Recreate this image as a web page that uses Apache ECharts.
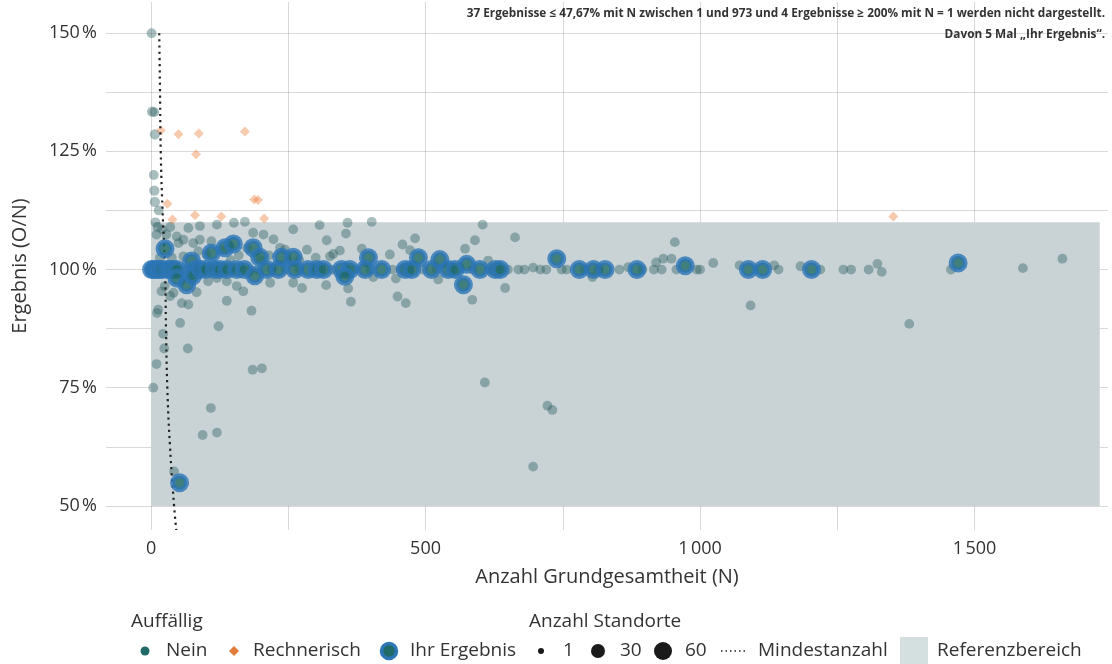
<!DOCTYPE html>
<html><head><meta charset="utf-8">
<script src="https://cdn.jsdelivr.net/npm/echarts@6/dist/echarts.min.js"></script>
<style>html,body{margin:0;padding:0;background:#fff}#c{width:1112px;height:664px}</style>
</head><body><div id="c"></div>
<script>
// ---- data ----
const xTicks = [0, 250, 500, 750, 1000, 1250, 1500];
const xLabels = [0, 500, 1000, 1500];
const yTicks = [50, 62.5, 75, 87.5, 100, 112.5, 125, 137.5, 150];
const yLabels = [50, 75, 100, 125, 150];
// [N, Ergebnis %, Anzahl Standorte]
const neinPoints = [
 [1,150,1],[2,133.4,2],[6,133.3,1],[7,128.6,2],[5,120,1],[6,116.7,2],[7,114.3,2],[14,112.5,1],
 [8,110,1],[12,109,1],[10,107.4,1],[28,107.4,1],[20,108.5,1],[35,109,1],[47,107,1],[50,105.6,1],[59,106.3,1],
 [77,105.6,1],[89,106.3,1],[68,108.8,1],[89,109.2,1],[120,109.5,1],[151,109.9,1],[171,110.1,1],[186,107.8,1],
 [205,107.4,1],[223,106.4,1],[235,104.6,1],[244,104.2,1],[259,108.5,1],[284,104.2,1],[16,102.5,1],[38,102.5,1],
 [59,102.8,1],[86,103.9,1],[101,103.2,1],[110,106,1],[130,104,1],[145,102,1],[160,103,1],[175,104.5,1],
 [200,102,1],[215,103,1],[250,101.5,1],[270,102,1],[300,102.5,1],
 [25,96.5,1],[19,95.4,1],[41,95.1,1],[35,94.4,1],[56,92.9,1],[68,92.6,1],[13,91.5,1],[11,90.8,1],[53,88.7,1],
 [22,86.4,1],[24,83.3,1],[67,83.3,1],[10,80,1],[4,75,1],[42,57.3,1],[104,97.5,1],[83,95.2,1],[120,98.2,1],
 [138,97.5,1],[138,93.4,1],[156,96.5,1],[168,95.4,1],[183,91.3,1],[217,97.2,1],[259,97.2,1],[275,96.1,1],
 [123,88,1],[185,78.8,1],[202,79.1,1],[109,70.7,1],[94,65,1],[120,65.5,1],
 [307,109.4,1],[358,109.9,1],[402,110.1,1],[320,106.2,1],[355,107.6,1],[384,104.4,1],[481,106.6,1],[458,105.3,1],
 [472,104.1,1],[435,103.2,1],[572,104.4,1],[590,106.2,1],[604,109.5,1],[326,102.8,1],[332,103.3,1],[344,104,1],
 [319,96.7,1],[359,96,1],[364,93.2,1],[405,98.4,1],[446,98.1,1],[449,94.3,1],[464,92.9,1],[523,97.9,1],
 [585,93.6,1],[645,96.1,1],[614,101.9,1],[608,76.1,1],[722,71.2,1],[731,70.3,1],[696,58.3,1],
 [663,106.8,1],[696,100.4,1],[804,98.4,1],[869,100.5,1],[920,101.5,1],[933,102.3,1],[948,102.3,1],[954,105.8,1],
 [1024,101.4,1],[1072,100.9,1],[1135,100.9,1],[1183,100.7,1],[1323,101.2,1],[1331,99.5,1],[1092,92.4,1],
 [1381,88.5,1],[1588,100.3,1],[1660,102.3,1],
 [1,100,5],[3,100,3],[8,100,2],[12,100,2],[18,100,2],[25,100,2],[33,100,2],[45,100,2],[60,100,2],[70,100,2],
 [95,100,2],[105,100,2],[120,100,2],[145,100,2],[165,100,1],[180,100,1],[195,100,1],[220,100,1],[245,100,1],
 [270,100,1],[330,100,1],[370,100,1],[400,100,1],[440,100,1],[455,100,1],[495,100,1],[520,100,1],[560,100,1],
 [585,100,1],[615,100,1],[650,100,1],[669,100,1],[680,100,1],[709,100,1],[720,100,1],[748,100,1],[757,100,1],
 [790,100,1],[815,100,1],[853,100,1],[895,100,1],[916,100,1],[930,100,1],[957,100,1],[994,100,1],[1000,100,1],
 [1143,100,1],[1219,100,1],[1261,100,1],[1275,100,1],[1307,100,1],[1457,100,1]
];
const rechnerischPoints = [
 [18,129.4],[50,128.6],[87,128.8],[171,129.2],[82,124.4],[30,113.9],[188,114.8],[195,114.7],
 [80,111.5],[128,111.2],[206,110.8],[39,110.6],[1352,111.2]
];
const ihrPoints = [
 [1,100],[5,100],[10,100],[15,100],[20,100],[25.5,104.4],[30,100],[35,100],[40,100],[47,100],[74,101.8],
 [80,100],[47,98.2],[65,96.8],[76,98.7],[90,100],[100,100],[110,103.5],[115,100],[125,100],[135,104.6],
 [150,105.4],[138,100],[156,100],[170,100],[186,104.6],[189,98.7],[198,102.6],[211,100],[232,100],[238,102.6],
 [259,102.6],[262,100],[286,100],[302,100],[314,100],[347,100],[362,100],[353,98.6],[396,102.5],[390,100],
 [420,100],[463,100],[475,100],[487,102.5],[511,100],[526,102.1],[541,100],[554,100],[575,101.1],[569,96.8],
 [599,100],[627,100],[636,100],[739,102.3],[780,100],[806,100],[827,100],[885,100],[973,100.8],[1088,100],
 [1114,100],[1203,100],[1470,101.4],[52,54.9]
];
const minN   = [15, 16.4, 17.7, 21, 25.5, 27.3, 29.7, 34.6, 42, 46];
const minPct = [150, 137.5, 125, 112.5, 100, 87.5, 75, 62.5, 50, 44.9];
const refN = [0, 1728];
const refPct = [50, 110];

const FONT = 'Open Sans';
const fmtN = v => String(v).replace(/\B(?=(\d{3})+(?!\d))/g, '\u202F');
const LF = '19px "Open Sans"';

const chart = echarts.init(document.getElementById('c'), null, {renderer: 'canvas'});
const grid = {left: 106, right: 4, top: 2, bottom: 134};

chart.setOption({
  animation: false,
  textStyle: {fontFamily: FONT},
  grid: grid,
  xAxis: {
    type: 'value', min: -82, max: 1743,
    name: 'Anzahl Grundgesamtheit (N)', nameLocation: 'middle', nameGap: 37,
    nameTextStyle: {fontSize: 20, color: '#333', fontFamily: FONT},
    axisLine: {show: false},
    axisTick: {show: false, customValues: xTicks},
    axisLabel: {customValues: xLabels, formatter: fmtN, fontSize: 18, color: '#333', margin: 10},
    splitLine: {show: true, lineStyle: {color: 'rgba(0,0,0,0.15)', width: 1}}
  },
  yAxis: {
    type: 'value', min: 44.9, max: 156.6,
    name: 'Ergebnis (O/N)', nameLocation: 'middle', nameGap: 76, nameRotate: 90,
    nameTextStyle: {fontSize: 20, color: '#333', fontFamily: FONT},
    axisLine: {show: false},
    axisTick: {show: false, customValues: yTicks},
    axisLabel: {customValues: yLabels, formatter: v => v + '\u202F%', fontSize: 18, color: '#333', margin: 9},
    splitLine: {show: true, lineStyle: {color: 'rgba(0,0,0,0.15)', width: 1}}
  },
  series: [
    {
      name: 'Referenzbereich', type: 'line', data: [], z: -1, silent: true,
      markArea: {silent: true, itemStyle: {color: '#c9d3d6'},
        data: [[{coord: [refN[0], refPct[0]]}, {coord: [refN[1], refPct[1]]}]]}
    },
    {
      name: 'Nein', type: 'scatter', data: neinPoints, z: 2,
      symbolSize: v => 8.5 + 1.3 * Math.sqrt(v[2] || 1),
      itemStyle: {color: 'rgba(40,92,96,0.5)'}
    },
    {
      name: 'Rechnerisch', type: 'scatter', data: rechnerischPoints, z: 3,
      symbol: 'diamond', symbolSize: 10,
      itemStyle: {color: 'rgba(236,122,52,0.5)'}
    },
    {
      name: 'Mindestanzahl', type: 'line', z: 4,
      data: minN.map((n, i) => [n, minPct[i]]),
      showSymbol: false, smooth: true,
      lineStyle: {color: '#222', width: 2.2, type: [2.2, 4]}
    },
    {
      name: 'Ihr Ergebnis', type: 'scatter', data: ihrPoints, z: 5,
      symbolSize: 14,
      itemStyle: {color: '#1f6a66', borderColor: '#2c76b8', borderWidth: 5}
    }
  ],
  graphic: [
    {type: 'text', right: 7, top: 8, style: {text: '37 Ergebnisse ≤ 47,67% mit N zwischen 1 und 973 und 4 Ergebnisse ≥ 200% mit N = 1 werden nicht dargestellt.', font: 'bold 11.8px "Open Sans"', fill: '#333'}},
    {type: 'text', right: 7, top: 29, style: {text: 'Davon 5 Mal „Ihr Ergebnis“.', font: 'bold 11.8px "Open Sans"', fill: '#333'}},
    {type: 'text', x: 131, y: 622, style: {text: 'Auffällig', font: LF, fill: '#333', verticalAlign: 'middle'}},
    {type: 'text', x: 529, y: 622, style: {text: 'Anzahl Standorte', font: LF, fill: '#333', verticalAlign: 'middle'}},
    {type: 'circle', shape: {cx: 145, cy: 651, r: 4.5}, style: {fill: '#1f6a66'}},
    {type: 'text', x: 166, y: 651, style: {text: 'Nein', font: LF, fill: '#333', verticalAlign: 'middle'}},
    {type: 'polygon', shape: {points: [[234, 646], [239, 651], [234, 656], [229, 651]]}, style: {fill: '#e07b39'}},
    {type: 'text', x: 253, y: 651, style: {text: 'Rechnerisch', font: LF, fill: '#333', verticalAlign: 'middle'}},
    {type: 'circle', shape: {cx: 389, cy: 651, r: 7.5}, style: {fill: '#1f6a66', stroke: '#2c76b8', lineWidth: 3.5}},
    {type: 'text', x: 410, y: 651, style: {text: 'Ihr Ergebnis', font: LF, fill: '#333', verticalAlign: 'middle'}},
    {type: 'circle', shape: {cx: 541, cy: 651, r: 3}, style: {fill: '#1a1a1a'}},
    {type: 'text', x: 563, y: 651, style: {text: '1', font: LF, fill: '#333', verticalAlign: 'middle'}},
    {type: 'circle', shape: {cx: 598, cy: 651, r: 7}, style: {fill: '#1a1a1a'}},
    {type: 'text', x: 620, y: 651, style: {text: '30', font: LF, fill: '#333', verticalAlign: 'middle'}},
    {type: 'circle', shape: {cx: 663, cy: 651, r: 9}, style: {fill: '#1a1a1a'}},
    {type: 'text', x: 685, y: 651, style: {text: '60', font: LF, fill: '#333', verticalAlign: 'middle'}},
    {type: 'line', shape: {x1: 721, y1: 651, x2: 746, y2: 651}, style: {stroke: '#222', lineWidth: 1.5, lineDash: [1.5, 3]}},
    {type: 'text', x: 758, y: 651, style: {text: 'Mindestanzahl', font: LF, fill: '#333', verticalAlign: 'middle'}},
    {type: 'rect', shape: {x: 900, y: 637, width: 28, height: 27}, style: {fill: '#d4e0e0'}},
    {type: 'text', x: 937, y: 651, style: {text: 'Referenzbereich', font: LF, fill: '#333', verticalAlign: 'middle'}}
  ]
});
</script>
</body></html>
